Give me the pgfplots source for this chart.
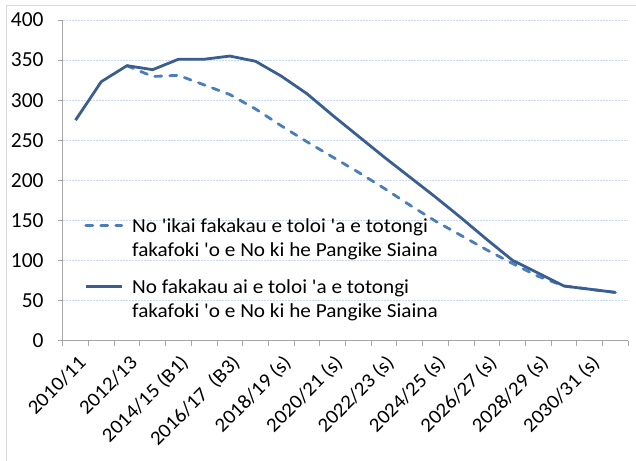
\documentclass[border=0pt]{standalone}
\usepackage{pgfplots}
\pgfplotsset{compat=1.18}
\usepackage{fontspec}
\newfontfamily\cf{Carlito}
\newfontfamily\cfw{Carlito}[FakeStretch=1.065]
\definecolor{solidc}{HTML}{3A5E91}
\definecolor{dashc}{HTML}{4A7EBB}
\definecolor{gridc}{HTML}{C6D9F1}
\definecolor{axisc}{HTML}{A6A6A6}
\definecolor{borderc}{HTML}{D9D9D9}
\pgfplotstableread{
x y
0 275
1 323
2 343
3 338
4 351
5 351
6 355
7 348.5
8 330
9 308
10 281
11 255
12 229
13 204
14 179
15 153
16 126
17 100
18 84
19 68
20 64
21 60
}\solidtab
\pgfplotstableread{
x y
2 343
3 329.5
4 331
5 319
6 307
7 289
8 268
9 248
10 229
11 210
12 190
13 169
14 149
15 131
16 113
17 96
18 80
19 68
20 64
21 60
}\dashtab
\begin{document}
\begin{tikzpicture}
\useasboundingbox (0bp,0bp) rectangle (636bp,461bp);
\draw[borderc, line width=1.2bp] (6.7bp,-2bp) -- (6.7bp,455.3bp) -- (640bp,455.3bp);
\begin{axis}[
  at={(62.7bp,120.5bp)}, anchor=south west,
  scale only axis, width=565.6bp, height=320.5bp,
  xmin=-0.5, xmax=21.5, ymin=0, ymax=400,
  axis lines*=left,
  axis line style={axisc, line width=0.9bp},
  ytick={0,50,...,400},
  xtick={0,2,...,20},
  xticklabels={2010/11,2012/13,2014/15 (B1),2016/17\ \ (B3),2018/19 (s),2020/21 (s),2022/23 (s),2024/25 (s),2026/27 (s),2028/29 (s),2030/31 (s)},
  minor xtick={-0.5,0.5,...,21.5},
  tick align=outside,
  major tick length=5bp,
  minor tick length=5bp,
  major x tick style={draw=none},
  minor x tick style={axisc, line width=0.9bp},
  major y tick style={axisc, line width=0.9bp},
  ymajorgrids,
  major y grid style={gridc, line width=0.9bp, dash pattern=on 2bp off 1bp},
  /pgf/number format/assume math mode=true,
  tick label style={font=\cfw\fontsize{20}{24}\selectfont, text=black},
  yticklabel style={font=\cf\fontsize{21.5}{24}\selectfont, anchor=east, inner sep=0pt, xshift=-14bp},
  xticklabel style={xshift=7bp, yshift=-14bp, rotate=45, anchor=east, inner sep=0pt},
  legend style={at={(0.038,0.387)}, anchor=north west, draw=none, fill=none,
    inner sep=0pt, row sep=18bp, column sep=7bp,
    font=\cfw\fontsize{20}{24}\selectfont,
    cells={anchor=west, align=left}},
  legend image code/.code={\path (0,-13bp); \draw[#1] (0,13bp) -- (36bp,13bp);},
  clip=false
]
\addplot[dashc, line width=2.8bp, dash pattern=on 7bp off 8bp, line cap=round, line join=round] table {\dashtab};
\addlegendentry{No 'ikai fakakau e toloi 'a e totongi\\fakafoki 'o e No ki he Pangike Siaina}
\addplot[solidc, line width=2.8bp, line join=round] table {\solidtab};
\addlegendentry{No fakakau ai e toloi 'a e totongi\\fakafoki 'o e No ki he Pangike Siaina}
\end{axis}
\end{tikzpicture}
\end{document}
